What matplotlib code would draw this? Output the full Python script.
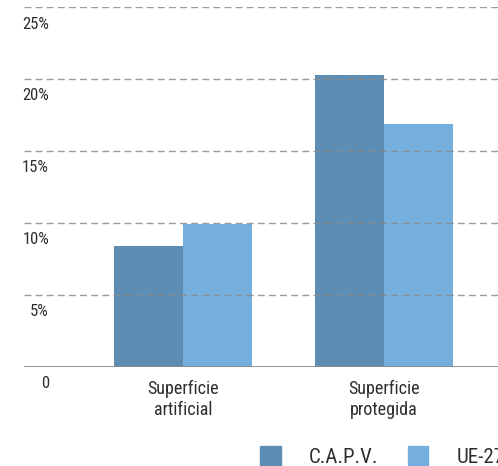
import matplotlib
matplotlib.use("Agg")
import matplotlib.pyplot as plt
from matplotlib.patches import Patch
import numpy as np

plt.rcParams['font.family'] = ['Roboto Condensed', 'DejaVu Sans']
plt.rcParams['lines.scale_dashes'] = False

categories = ["Superficie\nartificial", "Superficie\nprotegida"]
capv = [8.4, 20.3]
ue27 = [9.9, 16.9]
series_names = ["C.A.P.V.", "UE-27"]
yticks = [0, 5, 10, 15, 20, 25]
ytick_labels = ["0", "5%", "10%", "15%", "20%", "25%"]

c_dark = "#5d8db2"
c_light = "#75afde"
txt = "#2e2e2e"

W, H = 498, 466
fig = plt.figure(figsize=(W / 100, H / 100), dpi=100)
ax = fig.add_axes([24 / W, (H - 367) / H, 474 / W, 360 / H])

x = np.arange(len(categories))
w = 0.343
ax.bar(x - w / 2, capv, w, color=c_dark, zorder=2)
ax.bar(x + w / 2, ue27, w, color=c_light, zorder=2)

ax.set_xlim(-0.79, 1.567)
ax.set_ylim(0, 25)

for v in yticks[1:]:
    ax.axhline(v, color="#8a8a8a", lw=1.0, ls=(0, (5, 3)), alpha=0.85, zorder=3)
ax.axhline(0, color="#8a8a8a", lw=1.3, zorder=3)

for v, lab in zip(yticks, ytick_labels):
    ax.annotate(lab, xy=(25 / 474, v), xycoords=("axes fraction", "data"),
                xytext=(0, -17), textcoords="offset pixels",
                ha="right", va="center", fontsize=12, color=txt)

ax.set_yticks([])
ax.set_xticks(x)
ax.set_xticklabels(categories, fontsize=13, color=txt, linespacing=1.2)
ax.tick_params(axis="x", length=0, pad=9.5)
for s in ax.spines.values():
    s.set_visible(False)

handles = [Patch(color=c_dark), Patch(color=c_light)]
fig.legend(handles, series_names, ncol=2, loc="center left",
           bbox_to_anchor=(260 / W, 9.5 / H), frameon=False,
           fontsize=15, handlelength=1.0, handleheight=1.0,
           handletextpad=1.35, columnspacing=1.4, labelcolor=txt,
           borderaxespad=0, borderpad=0)

fig.savefig("out.png", dpi=100)
